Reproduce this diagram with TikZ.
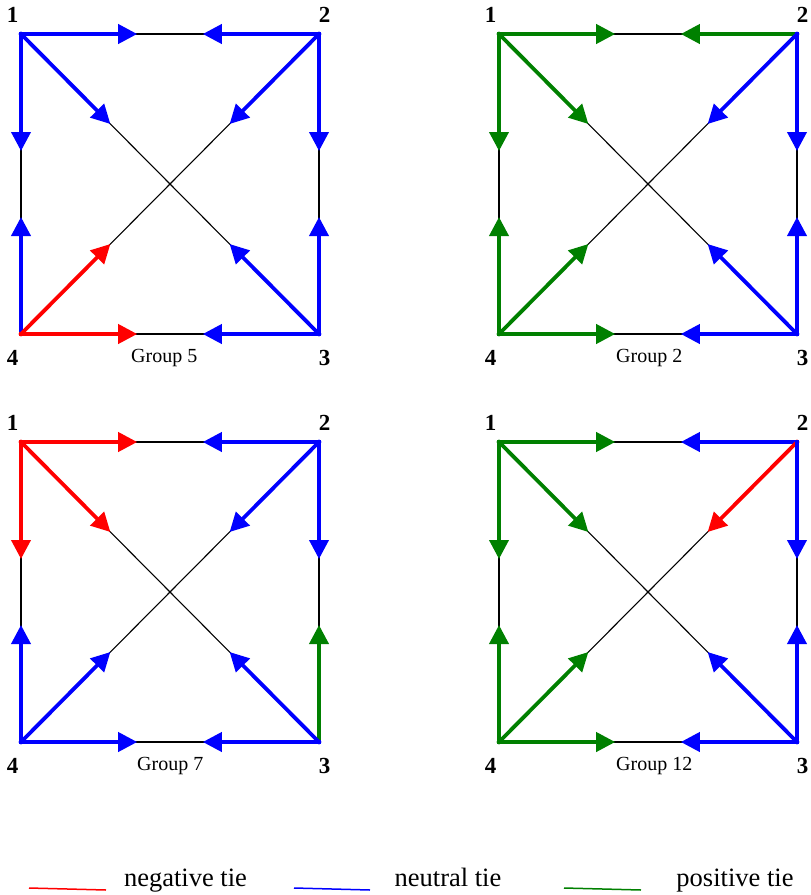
\documentclass[tikz,border=0pt]{standalone}
\usepackage{fontspec}
\setmainfont{Liberation Serif}
\usetikzlibrary{arrows.meta,calc}
\definecolor{tgreen}{RGB}{0,128,0}
\definecolor{tblue}{RGB}{0,0,255}
\definecolor{tred}{RGB}{255,0,0}
\tikzset{
  base line/.style={black, line width=1.1pt},
  tie/.style={line width=3.8pt, line cap=rect, -{Triangle[length=19pt,width=19pt]}},
  corner label/.style={font=\bfseries\fontsize{23}{23}\selectfont, anchor=base, inner sep=0pt},
  group label/.style={font=\fontsize{20}{20}\selectfont, anchor=base west, inner sep=0pt},
  legend text/.style={font=\fontsize{26.5}{26.5}\selectfont, anchor=base, inner sep=0pt},
  legend line/.style={line width=1.5pt},
}
\newcommand\mkpanel[5]{% name, x, y (top-left corner), group text, group text x
  \coordinate (#1-1) at (#2,#3);
  \coordinate (#1-2) at (#2+298,#3);
  \coordinate (#1-3) at (#2+298,#3+300);
  \coordinate (#1-4) at (#2,#3+300);
  \foreach \a/\b/\f in {1/2/.39,2/1/.39,1/4/.39,4/1/.39,2/3/.39,3/2/.39,4/3/.39,3/4/.39,1/3/.3,3/1/.3,2/4/.3,4/2/.3}
    {\coordinate (#1-\a\b) at ($(#1-\a)!\f!(#1-\b)$);}
  \draw[base line] (#1-1) -- (#1-2) -- (#1-3) -- (#1-4) -- cycle;
  \draw[base line] (#1-1) -- (#1-3);
  \draw[base line] (#1-2) -- (#1-4);
  \node[corner label] (#1-l1) at (#2-8.5,#3-12) {1};
  \node[corner label] (#1-l2) at (#2+303.5,#3-12) {2};
  \node[corner label] (#1-l3) at (#2+303.5,#3+331) {3};
  \node[corner label] (#1-l4) at (#2-8.5,#3+331) {4};
  \node[group label] (#1-g) at (#5,#3+328) {#4};
}
\newcommand\mkties[2]{%
  \foreach \a/\b/\c in {#2} {\draw[tie,\c] (#1-\a) -- (#1-\a\b);}
}
\begin{document}
\begin{tikzpicture}[x=1pt,y=-1pt]
\useasboundingbox (0,0) rectangle (811,895);

% Group 5
\mkpanel{A}{21}{34}{Group 5}{131}
\mkties{A}{1/2/tblue,2/1/tblue,1/4/tblue,4/1/tblue,1/3/tblue,2/4/tblue,2/3/tblue,3/2/tblue,4/3/tred,3/4/tblue,4/2/tred,3/1/tblue}

% Group 2
\mkpanel{B}{499}{34}{Group 2}{616}
\mkties{B}{1/2/tgreen,2/1/tgreen,1/4/tgreen,4/1/tgreen,1/3/tgreen,2/4/tblue,2/3/tblue,3/2/tblue,4/3/tgreen,3/4/tblue,4/2/tgreen,3/1/tblue}

% Group 7
\mkpanel{C}{21}{442}{Group 7}{137}
\mkties{C}{1/2/tred,2/1/tblue,1/4/tred,4/1/tblue,1/3/tred,2/4/tblue,2/3/tblue,3/2/tgreen,4/3/tblue,3/4/tblue,4/2/tblue,3/1/tblue}

% Group 12
\mkpanel{D}{499}{442}{Group 12}{616}
\mkties{D}{1/2/tgreen,2/1/tblue,1/4/tgreen,4/1/tgreen,1/3/tgreen,2/4/tred,2/3/tblue,3/2/tblue,4/3/tgreen,3/4/tblue,4/2/tgreen,3/1/tblue}

% Legend
\coordinate (rl1) at (29,888);  \coordinate (rl2) at (106,890);
\coordinate (bl1) at (294,888); \coordinate (bl2) at (370,890);
\coordinate (gl1) at (564,888); \coordinate (gl2) at (641,890);
\draw[legend line,tred] (rl1) -- (rl2);
\draw[legend line,tblue] (bl1) -- (bl2);
\draw[legend line,tgreen] (gl1) -- (gl2);
\node[legend text] (negt) at (185.5,886) {negative tie};
\node[legend text] (neut) at (448,886) {neutral tie};
\node[legend text] (post) at (735,886) {positive tie};
\end{tikzpicture}
\end{document}
